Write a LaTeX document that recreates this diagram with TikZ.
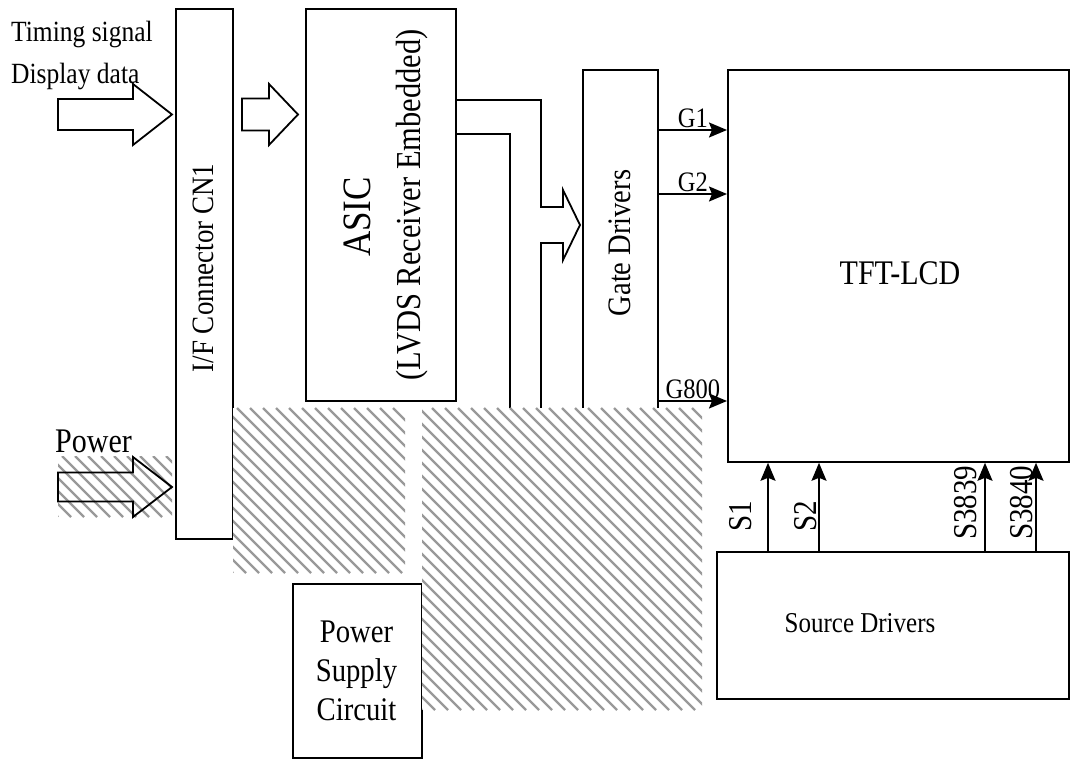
\documentclass[tikz,border=0pt]{standalone}
\usepackage{fontspec}
\setmainfont{Liberation Serif}[FakeStretch=0.87]
\usetikzlibrary{arrows.meta}
\newcommand*{\txt}[1]{\pgfmathsetmacro{\fsz}{#1*1.15}\fontsize{\fsz}{\fsz}\selectfont}
\newcommand{\fatarrow}[7]{%
% options, tail x, head base x, tip x, centre y, half body, half head
  \draw[#1] (#2,#5-#6) -- (#3,#5-#6) -- (#3,#5-#7) -- (#4,#5)
       -- (#3,#5+#7) -- (#3,#5+#6) -- (#2,#5+#6) -- cycle;
}
\newcommand{\hatchbox}[4]{%
% left, top, right, bottom of a grey hatched patch
  \pgfmathsetmacro{\hh}{#4-#2}
  \pgfmathsetmacro{\hstart}{#1-\hh}
  \pgfmathsetmacro{\hnext}{\hstart+13}
  \begin{scope}
    \clip (#1,#2) rectangle (#3,#4);
    \fill[white] (#1,#2) rectangle (#3,#4);
    \foreach \hx in {\hstart,\hnext,...,#3}
      \draw[hatchline] (\hx,#2) -- ++(\hh,\hh);
  \end{scope}
}
\tikzset{
  box/.style = {draw, line width=1.8pt, inner sep=0pt, anchor=north west},
  sig/.style = {line width=1.8pt, -{Stealth[length=18pt,width=15pt,inset=3pt]}},
  fat/.style = {draw, line width=1.8pt, line join=miter},
  hatchline/.style = {gray!80, line width=2.2pt}
}

\begin{document}
\begin{tikzpicture}[x=1pt, y=-1pt]
  \useasboundingbox (0,0) rectangle (1077,759);

  % blocks
  \node[box, minimum width=57pt, minimum height=530pt] (conn) at (175,8) {};
  \node[box, minimum width=150pt, minimum height=392pt] (asic) at (305,8) {};
  \node[box, minimum width=75pt, minimum height=360pt] (gate) at (582,69) {};
  \node[box, minimum width=341pt, minimum height=392pt] (tft) at (727,69) {};
  \node[box, minimum width=352pt, minimum height=147pt] (source) at (716,551) {};
  \node[box, minimum width=129pt, minimum height=174pt] (psu) at (292,583) {};

  \node[rotate=90, font=\txt{27}] (conntext) at (203,268) {I/F Connector CN1};
  \node[rotate=90, font=\txt{35}] (asictext) at (357,217) {ASIC};
  \node[rotate=90, font=\txt{30.5}] (lvdstext) at (412,205) {(LVDS Receiver Embedded)};
  \node[rotate=90, font=\txt{28.5}] (gatetext) at (620,243) {Gate Drivers};
  \node[font=\txt{30}] (tfttext) at (900,273) {TFT-LCD};
  \node[font=\txt{25}] (sourcetext) at (860,623) {Source Drivers};
  \node[font={\fontsize{33}{39}\selectfont}, align=center] (psutext) at (356.5,671)
    {Power\\Supply\\Circuit};

  % inputs
  \node[anchor=base west, inner sep=0pt, font=\txt{25.5}] (timing) at (11,42) {Timing signal};
  \node[anchor=base west, inner sep=0pt, font=\txt{25.5}] (data) at (11,84) {Display data};
  \node[anchor=base west, inner sep=0pt, font=\txt{30}] (power) at (55,452) {Power};

  \fatarrow{fat}{58}{133}{172}{114.5}{15.5}{30.5}
  \fatarrow{fat}{242}{269}{298}{114.5}{16}{30.5}
  \hatchbox{58}{456}{172}{517}
  \fatarrow{fat}{58}{133}{172}{487}{14.5}{30}

  % ASIC to gate drivers
  \draw[fat] (asic.east |- 0,100) -- (541,100) -- (541,207) -- (563,207) -- (563,190)
    -- (580,225) -- (563,260) -- (563,243) -- (541,243) -- (541,430);
  \draw[fat] (asic.east |- 0,134) -- (510,134) -- (510,430);

  % gate lines
  \foreach \gy/\gname in {130/G1,194/G2,401/G800}
    \draw[sig] (gate.east |- 0,\gy) -- node[above=1pt, inner sep=0pt, font=\txt{24.5}] {\gname}
      (tft.west |- 0,\gy);

  % source lines
  \foreach \sx/\lx/\ly/\sname in {768/752/532/S1,819/817/532/S2,985/977/540/S3839,1036/1033/540/S3840} {
    \draw[sig] (source.north -| \sx,0) -- (tft.south -| \sx,0);
    \node[rotate=90, anchor=south west, inner sep=0pt, font=\txt{29}] (lab\sname) at (\lx,\ly) {\sname};
  }

  % hatched patches
  \hatchbox{233}{408}{405}{573}
  \hatchbox{422}{408}{702}{710}
\end{tikzpicture}
\end{document}
